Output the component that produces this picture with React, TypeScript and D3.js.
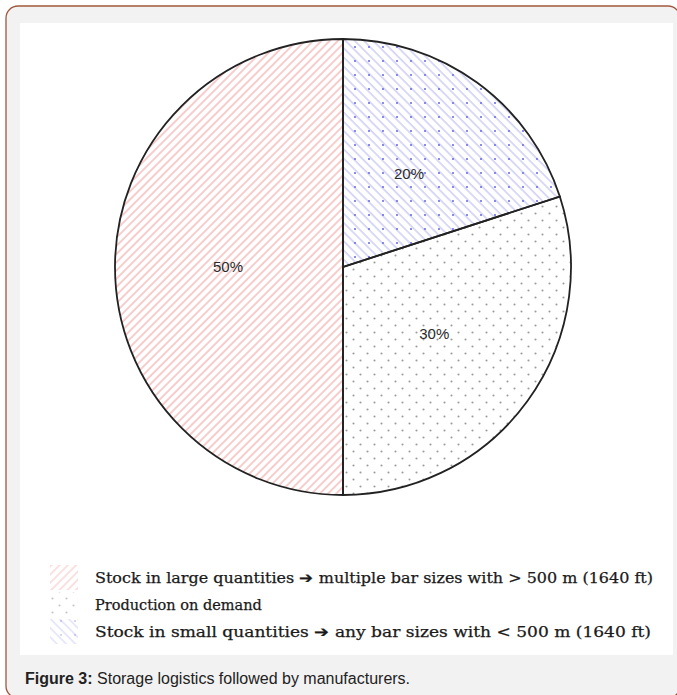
import React from "react";
import * as d3 from "d3";

// ---- data ----
const legendLabels = [
  "Stock in large quantities \u2794 multiple bar sizes with > 500 m (1640 ft)",
  "Production on demand",
  "Stock in small quantities \u2794 any bar sizes with < 500 m (1640 ft)",
];
const legendKeys = ["large", "demand", "small"];
// pie order (clockwise from 12 o'clock)
const pieKeys = ["small", "demand", "large"];
const pieValues = [20, 30, 50];
const pieLabels = ["20%", "30%", "50%"];
const captionBold = "Figure 3:";
const captionText = " Storage logistics followed by manufacturers.";

const W = 677;
const H = 695;
const cx = 343;
const cy = 267;
const R = 228;

const fillFor: Record<string, string> = {
  large: "url(#patLarge)",
  demand: "url(#patDemand)",
  small: "url(#patSmallLines)",
};

export default function App() {
  const pie = d3.pie<number>().sort(null).value((d) => d);
  const arcs = pie(pieValues);
  const arcGen = d3.arc<d3.PieArcDatum<number>>().innerRadius(0).outerRadius(R);
  const labelArc = d3
    .arc<d3.PieArcDatum<number>>()
    .innerRadius(R * 0.5)
    .outerRadius(R * 0.5);

  const legendY = d3.scalePoint<string>().domain(legendKeys).range([578, 632]);
  const legendWidths: (number | undefined)[] = [558, undefined, 556];

  return (
    <svg
      width={W}
      height={H}
      style={{ position: "absolute", left: 0, top: 0 }}
      xmlns="http://www.w3.org/2000/svg"
    >
      <defs>
        <pattern
          id="patLarge"
          patternUnits="userSpaceOnUse"
          width={5.8}
          height={10}
          patternTransform="rotate(45)"
        >
          <rect width={5.8} height={10} fill="#ffffff" />
          <line x1={1} y1={0} x2={1} y2={10} stroke="#f5b8b8" strokeWidth={1.4} />
        </pattern>
        <pattern id="patDemand" patternUnits="userSpaceOnUse" width={14} height={14}>
          <rect width={14} height={14} fill="#ffffff" />
          <circle cx={3.5} cy={3.5} r={1.05} fill="#9c9c9c" />
          <circle cx={10.5} cy={10.5} r={1.05} fill="#9c9c9c" />
        </pattern>
        <pattern
          id="patSmallLines"
          patternUnits="userSpaceOnUse"
          width={6.5}
          height={10}
          patternTransform="rotate(-45)"
        >
          <rect width={6.5} height={10} fill="#ffffff" />
          <line x1={1} y1={0} x2={1} y2={10} stroke="#c6c6f4" strokeWidth={1.3} />
        </pattern>
        <pattern id="patSmallDots" patternUnits="userSpaceOnUse" width={14} height={14}>
          <circle cx={5} cy={5} r={1.1} fill="#6f6fe6" />
        </pattern>
        {arcs.map((a, i) => (
          <clipPath id={`clip${i}`} key={"c" + i}>
            <path d={arcGen(a) || ""} transform={`translate(${cx},${cy})`} />
          </clipPath>
        ))}
      </defs>

      {/* frame */}
      <rect x={6} y={6} width={674} height={692} rx={12} ry={12} fill="#f2f2f2" stroke="#a0583c" strokeWidth={1.3} />
      <rect x={20} y={23} width={653} height={632} fill="#ffffff" />

      {/* pie fills */}
      {arcs.map((a, i) => (
        <g key={pieKeys[i]} clipPath={`url(#clip${i})`}>
          <rect x={cx - R} y={cy - R} width={2 * R} height={2 * R} fill={fillFor[pieKeys[i]]} />
          {pieKeys[i] === "small" && (
            <rect x={cx - R} y={cy - R} width={2 * R} height={2 * R} fill="url(#patSmallDots)" />
          )}
        </g>
      ))}

      <g transform={`translate(${cx},${cy})`}>
        {arcs.map((a, i) => (
          <path key={"s" + i} d={arcGen(a) || ""} fill="none" stroke="#222222" strokeWidth={1.8} />
        ))}
        {arcs.map((a, i) => {
          const [lx, ly] = labelArc.centroid(a);
          return (
            <text
              key={"l" + i}
              x={lx - 1}
              y={ly - 1}
              textAnchor="middle"
              dominantBaseline="central"
              fontFamily="'Liberation Sans', Arial, sans-serif"
              fontSize={15}
              fill="#2a2a2a"
            >
              {pieLabels[i]}
            </text>
          );
        })}
      </g>

      {/* legend */}
      {legendKeys.map((k, i) => {
        const y = legendY(k) as number;
        const tl = legendWidths[i];
        return (
          <g key={k}>
            <rect x={50} y={y - 13} width={28} height={25} fill={fillFor[k]} opacity={0.6} />
            {k === "small" && (
              <rect x={50} y={y - 13} width={28} height={25} fill="url(#patSmallDots)" opacity={0.35} />
            )}
            <text
              x={95}
              y={y}
              dominantBaseline="central"
              fontFamily="'DejaVu Serif', 'Liberation Serif', serif"
              fontSize={14.5}
              fill="#1a1a1a"
              stroke="#1a1a1a"
              strokeWidth={0.25}
              {...(tl ? { textLength: tl, lengthAdjust: "spacingAndGlyphs" } : {})}
            >
              {legendLabels[i]}
            </text>
          </g>
        );
      })}

      {/* caption */}
      <text x={25} y={684} fontFamily="'Liberation Sans', Arial, sans-serif" fontSize={16} fill="#222222">
        <tspan fontWeight="bold">{captionBold}</tspan>
        <tspan>{captionText}</tspan>
      </text>
    </svg>
  );
}
